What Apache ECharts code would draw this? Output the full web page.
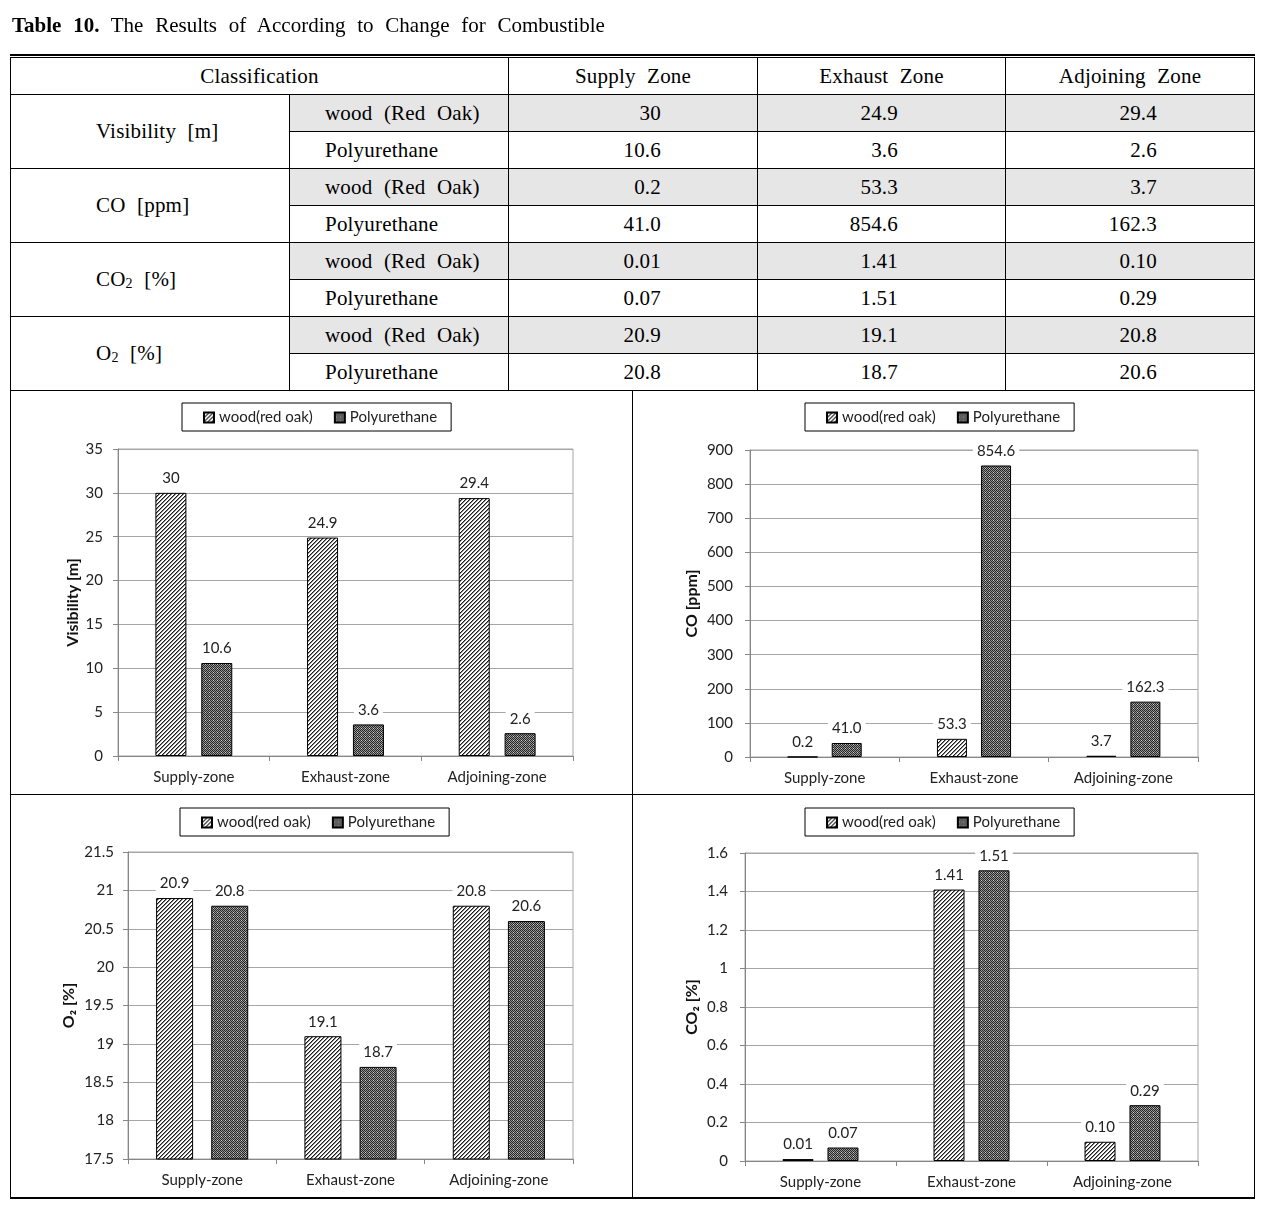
<!DOCTYPE html>
<html><head><meta charset="utf-8">
<script src="https://cdn.jsdelivr.net/npm/echarts@6/dist/echarts.min.js"></script>
<style>
html,body{margin:0;padding:0;background:#fff;width:1265px;height:1211px;overflow:hidden;}
#chart{position:absolute;left:0;top:0;width:1265px;height:1211px;z-index:0;}
#title{position:absolute;left:12px;top:13px;font-family:"Liberation Serif",serif;font-size:21px;word-spacing:6.5px;color:#000;white-space:nowrap;z-index:2;}
#dbl{position:absolute;left:10px;top:54px;width:1245px;height:0;border-top:2px solid #000;z-index:2;}
#tbl{position:absolute;left:10px;top:57px;border-collapse:collapse;table-layout:fixed;font-family:"Liberation Serif",serif;font-size:21px;word-spacing:6px;letter-spacing:0.2px;color:#000;background:#fff;z-index:2;}
#tbl td{border:1px solid #000;height:36px;padding:0;white-space:nowrap;vertical-align:middle;}
#tbl td.hd{text-align:center;}
#tbl td.grp{text-align:left;padding-left:85px;}
#tbl td.mat{text-align:left;padding-left:35px;}
#tbl td.n0{text-align:right;padding-right:96px;}
#tbl td.n1{text-align:right;padding-right:107px;}
#tbl td.n2{text-align:right;padding-right:97px;}
#tbl tr.w td.mat,#tbl tr.w td.n0,#tbl tr.w td.n1,#tbl tr.w td.n2{background:#e6e6e6;}
#tbl sub{font-size:14px;vertical-align:-2px;}
.ln{position:absolute;background:#000;z-index:2;}
</style></head>
<body>
<div id="chart"></div>
<div id="title"><b>Table 10.</b> The Results of According to Change for Combustible</div>
<div id="dbl"></div>
<table id="tbl"><colgroup><col style="width:279px"><col style="width:219px"><col style="width:249px"><col style="width:248px"><col style="width:249px"></colgroup><tbody id="tb"></tbody></table>
<div class="ln" style="left:10px;top:390px;width:1px;height:808px"></div>
<div class="ln" style="left:1254px;top:390px;width:1px;height:808px"></div>
<div class="ln" style="left:632px;top:390px;width:1px;height:808px"></div>
<div class="ln" style="left:10px;top:794px;width:1245px;height:1px"></div>
<div class="ln" style="left:10px;top:1197px;width:1245px;height:2px"></div>
<script>
// ---- data ----
const categories = ['Supply-zone', 'Exhaust-zone', 'Adjoining-zone'];
const zoneHeaders = ['Supply Zone', 'Exhaust Zone', 'Adjoining Zone'];
const materials = ['wood(red oak)', 'Polyurethane'];
const tableMaterials = ['wood (Red Oak)', 'Polyurethane'];
const groupNames = ['Visibility [m]', 'CO [ppm]', 'CO<sub>2</sub> [%]', 'O<sub>2</sub> [%]'];
const visWood = [30, 24.9, 29.4];
const visPoly = [10.6, 3.6, 2.6];
const coWood = [0.2, 53.3, 3.7];
const coPoly = [41.0, 854.6, 162.3];
const co2Wood = [0.01, 1.41, 0.10];
const co2Poly = [0.07, 1.51, 0.29];
const o2Wood = [20.9, 19.1, 20.8];
const o2Poly = [20.8, 18.7, 20.6];
// axis ticks: [min, max, interval]
const visTicks = [0, 35, 5];
const coTicks = [0, 900, 100];
const o2Ticks = [17.5, 21.5, 0.5];
const co2Ticks = [0, 1.6, 0.2];
const visDec = null, coDec = 1, co2Dec = 2, o2Dec = 1;

function fmt(v, d) { return d == null ? String(v) : v.toFixed(d); }

// ---- table ----
(function () {
  const tb = document.getElementById('tb');
  let h = '<tr><td class="hd" colspan="2">Classification</td>' + zoneHeaders.map(z => '<td class="hd">' + z + '</td>').join('') + '</tr>';
  const groups = [[visWood, visPoly, visDec], [coWood, coPoly, coDec], [co2Wood, co2Poly, co2Dec], [o2Wood, o2Poly, o2Dec]];
  groups.forEach((g, gi) => {
    [0, 1].forEach(mi => {
      h += '<tr class="' + (mi === 0 ? 'w' : 'p') + '">';
      if (mi === 0) h += '<td class="grp" rowspan="2">' + groupNames[gi] + '</td>';
      h += '<td class="mat">' + tableMaterials[mi] + '</td>';
      g[mi].forEach((v, i) => { h += '<td class="n' + i + '">' + fmt(v, g[2]) + '</td>'; });
      h += '</tr>';
    });
  });
  tb.innerHTML = h;
})();

// ---- patterns ----
function makePattern(fn, n) {
  const c = document.createElement('canvas');
  c.width = n; c.height = n;
  const ctx = c.getContext('2d');
  for (let x = 0; x < n; x++) for (let y = 0; y < n; y++) { ctx.fillStyle = fn(x, y); ctx.fillRect(x, y, 1, 1); }
  return { image: c, repeat: 'repeat' };
}
const woodPat = makePattern((x, y) => { const k = (x + y) % 4; return k === 0 ? '#1a1a1a' : (k === 1 ? '#8a8a8a' : '#ffffff'); }, 4);
const polyPat = makePattern((x, y) => ((x + y) % 2 === 0 ? '#262626' : ((x % 4 === 1 && y % 4 === 0) ? '#d0d0d0' : '#949494')), 4);

// ---- chart ----
const FONT = 'Lato';
const grids = [
  { left: 118, top: 449, width: 455, height: 307 },
  { left: 750, top: 450, width: 448, height: 307 },
  { left: 128, top: 852, width: 445, height: 307 },
  { left: 745, top: 853, width: 453, height: 308 }
];
const legendPos = [[182, 403], [805, 403], [180, 808], [805, 808]];
const axisNames = ['Visibility [m]', 'CO [ppm]', 'O\u2082 [%]', 'CO\u2082 [%]'];
const nameGaps = [37, 50, 51, 45];
const labelMargins = [15, 17, 14, 17];
const ticksList = [visTicks, coTicks, o2Ticks, co2Ticks];
const seriesData = [[visWood, visPoly, visDec], [coWood, coPoly, coDec], [o2Wood, o2Poly, o2Dec], [co2Wood, co2Poly, co2Dec]];
const barW = [31, 30, 37, 31];
const barGaps = ['48%', '47%', '49%', '45%'];

const option = {
  animation: false,
  backgroundColor: 'transparent',
  grid: grids.map(g => Object.assign({ show: true, borderColor: '#a6a6a6', borderWidth: 1, backgroundColor: 'transparent' }, g)),
  legend: legendPos.map(p => ({
    left: p[0], top: p[1], data: materials, icon: 'rect', itemWidth: 10, itemHeight: 10, itemGap: 21,
    borderColor: '#000', borderWidth: 1, padding: [7, 14, 6, 21], selectedMode: false,
    textStyle: { fontFamily: FONT, fontSize: 15, color: '#222' }
  })),
  xAxis: grids.map((g, i) => ({
    type: 'category', gridIndex: i, data: categories,
    axisLine: { show: true, lineStyle: { color: '#868686', width: 1 } },
    axisTick: { show: true, length: 5, lineStyle: { color: '#868686' } },
    axisLabel: { fontFamily: FONT, fontSize: 15, color: '#222', margin: 14 },
    splitLine: { show: false }
  })),
  yAxis: grids.map((g, i) => ({
    type: 'value', gridIndex: i, min: ticksList[i][0], max: ticksList[i][1], interval: ticksList[i][2],
    name: axisNames[i], nameLocation: 'middle', nameGap: nameGaps[i], nameRotate: 90,
    nameTextStyle: { fontFamily: FONT, fontSize: 16, fontWeight: 'bold', color: '#111' },
    axisLine: { show: true, lineStyle: { color: '#868686', width: 1 } },
    axisTick: { show: true, length: 5, lineStyle: { color: '#868686' } },
    axisLabel: { fontFamily: FONT, fontSize: 15, color: '#222', margin: labelMargins[i] },
    splitLine: { show: true, lineStyle: { color: '#a6a6a6', width: 1 } }
  })),
  series: []
};
seriesData.forEach((sd, i) => {
  [0, 1].forEach(mi => {
    option.series.push({
      type: 'bar', name: materials[mi], xAxisIndex: i, yAxisIndex: i, data: sd[mi],
      barWidth: barW[i], barGap: barGaps[i],
      itemStyle: { color: mi === 0 ? woodPat : polyPat, borderColor: '#000', borderWidth: 1 },
      label: {
        show: true, position: 'top', distance: 6, backgroundColor: '#fff', padding: [1, 4],
        fontFamily: FONT, fontSize: 15, color: '#222',
        formatter: p => fmt(p.value, sd[2])
      }
    });
  });
});
const chart = echarts.init(document.getElementById('chart'), null, { renderer: 'canvas' });
chart.setOption(option);
</script>
</body></html>
